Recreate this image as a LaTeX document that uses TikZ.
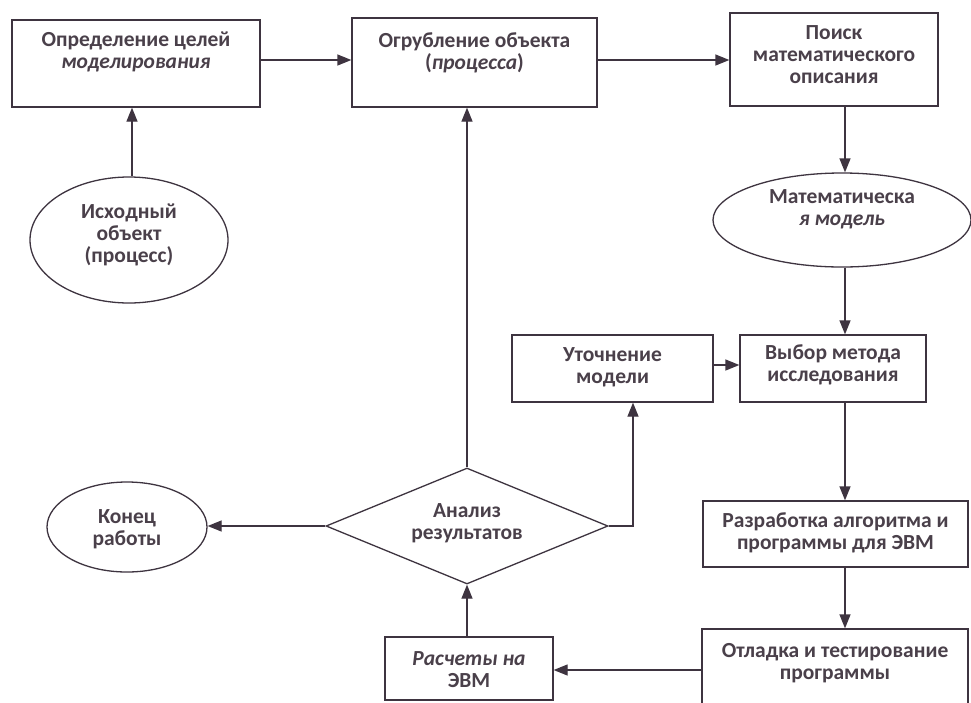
\documentclass[tikz,border=0pt]{standalone}
\usepackage{fontspec}
\setmainfont{Carlito}
\usetikzlibrary{arrows.meta,shapes.geometric}
\definecolor{ink}{HTML}{3E3440}
\definecolor{txt}{HTML}{4A404A}
\begin{document}
\begin{tikzpicture}[x=1pt,y=-1pt,
  boxs/.style={draw=ink,line width=1.3pt,rectangle,inner sep=0pt},
  ell/.style={draw=ink,line width=1.3pt,ellipse,inner sep=0pt},
  dia/.style={draw=ink,line width=1.3pt,diamond,inner sep=0pt},
  lbl/.style={text=txt,font=\fontsize{21.5}{22}\selectfont\bfseries,align=center,inner sep=0pt},
  arr/.style={draw=ink,line width=1.3pt,-{Triangle[length=14pt,width=11pt]}}]
\useasboundingbox[fill=white] (0,0) rectangle (971,702);
% boxes and shapes
\node[boxs,minimum width=248pt,minimum height=87pt] (b1) at (136,63.5) {};
\node[lbl] (t1) at (136,52) {Определение целей\\\textit{моделирования}};
\node[boxs,minimum width=245pt,minimum height=89pt] (b2) at (474.5,62.5) {};
\node[lbl] (t2) at (474.5,52.5) {Огрубление объекта\\(\textit{процесса})};
\node[boxs,minimum width=208pt,minimum height=93pt] (b3) at (834,59.5) {};
\node[lbl] (t3) at (834,55) {Поиск\\математического\\описания};
\node[ell,minimum width=198pt,minimum height=126pt] (e1) at (129,240) {};
\node[lbl] (t4) at (129,235) {Исходный\\объект\\(процесс)};
\node[ell,minimum width=258pt,minimum height=94pt] (e2) at (842,220) {};
\node[lbl] (t5) at (842,209) {Математическа\\\textit{я модель}};
\node[boxs,minimum width=201pt,minimum height=67pt] (b4) at (612.5,368.5) {};
\node[lbl] (t6) at (612.5,367) {Уточнение\\модели};
\node[boxs,minimum width=186pt,minimum height=67pt] (b5) at (833,368.5) {};
\node[lbl] (t7) at (833,365) {Выбор метода\\исследования};
\node[boxs,minimum width=265pt,minimum height=66pt] (b6) at (835.5,534) {};
\node[lbl] (t8) at (835.5,533) {Разработка алгоритма и\\программы для ЭВМ};
\node[boxs,minimum width=266pt,minimum height=82pt] (b7) at (835,670) {};
\node[lbl] (t9) at (835,663) {Отладка и тестирование\\программы};
\node[boxs,minimum width=168pt,minimum height=63pt] (b8) at (469,668.5) {};
\node[lbl] (t10) at (469,670) {\textit{Расчеты на}\\ЭВМ};
\node[dia,minimum width=282pt,minimum height=116pt] (d) at (467,526) {};
\node[lbl] (t11) at (467,523.5) {Анализ\\результатов};
\node[ell,minimum width=160pt,minimum height=90pt] (e3) at (127,527) {};
\node[lbl] (t12) at (127,529) {Конец\\работы};
% helper coordinates
\coordinate (c1) at (132,0);
\coordinate (c2) at (467,0);
\coordinate (c3) at (845,0);
\coordinate (c4) at (633,0);
\coordinate (r1) at (0,60);
\coordinate (r2) at (0,670);
\coordinate (r3) at (0,365);
% connectors
\draw[arr] (e1.north -| c1) -- (b1.south -| c1);
\draw[arr] (b1.east |- r1) -- (b2.west |- r1);
\draw[arr] (b2.east |- r1) -- (b3.west |- r1);
\draw[arr] (b3.south -| c3) -- (e2.north -| c3);
\draw[arr] (e2.south -| c3) -- (b5.north -| c3);
\draw[arr] (b5.south -| c3) -- (b6.north -| c3);
\draw[arr] (b6.south -| c3) -- (b7.north -| c3);
\draw[arr] (b7.west |- r2) -- (b8.east |- r2);
\draw[arr] (b8.north -| c2) -- (d.south -| c2);
\draw[arr] (d.north -| c2) -- (b2.south -| c2);
\draw[arr] (d.east) -| (b4.south -| c4);
\draw[arr] (b4.east |- r3) -- (b5.west |- r3);
\draw[arr] (d.west) -- (e3.east |- d.west);
\end{tikzpicture}
\end{document}
